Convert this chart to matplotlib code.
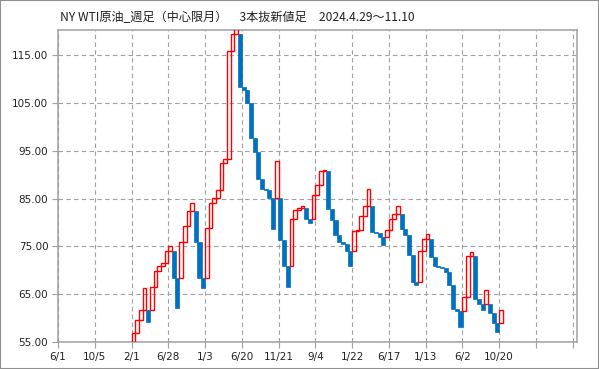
"""
NY WTI crude, weekly three-line-break chart (3本抜新値足)
"""

import matplotlib
matplotlib.use("Agg")
import matplotlib.pyplot as plt
from matplotlib.patches import Rectangle

# ---- data -----------------------------------------------------------------
first_slot = 20  # index of the first brick on the x axis

brick_open = [
    53.5, 56.8, 59.5, 61.6, 61.6, 61.6, 66.5, 69.8, 71.0, 71.6,   # 20-29
    74.1, 74.1, 68.3, 68.3, 75.9, 79.3, 82.5, 82.5, 75.9, 68.3,   # 30-39
    68.3, 78.9, 84.1, 85.2, 86.9, 92.4, 93.4, 116.0, 119.4, 119.4,  # 40-49
    108.4, 107.8, 105.0, 97.7, 94.7, 89.1, 87.1, 86.9, 85.1, 85.1,  # 50-59
    85.1, 76.3, 70.9, 70.9, 80.8, 82.7, 83.0, 83.0, 80.7, 80.7,   # 60-69
    85.7, 87.8, 90.8, 90.8, 82.9, 80.5, 77.3, 75.9, 75.6, 74.0,   # 70-79
    74.0, 78.2, 78.5, 81.3, 83.4, 83.4, 78.0, 77.8, 77.0, 77.0,   # 80-89
    78.5, 80.8, 81.7, 81.7, 78.7, 77.3, 73.3, 67.6, 67.6, 74.0,   # 90-99
    76.6, 76.6, 72.7, 70.9, 70.7, 70.4, 69.6, 67.0, 62.0, 61.5,   # 100-109
    61.5, 64.4, 73.1, 73.1, 63.9, 62.9, 62.9, 62.9, 61.0, 58.9,   # 110-119
    58.9,                                                          # 120
]
brick_close = [
    56.8, 59.5, 61.6, 66.2, 59.2, 66.5, 69.8, 71.0, 71.6, 74.1,
    75.1, 68.3, 62.1, 75.9, 79.3, 82.5, 84.0, 75.9, 68.3, 66.2,
    78.9, 84.1, 85.2, 86.9, 92.4, 93.4, 116.0, 119.4, 121.0, 108.4,
    107.8, 105.0, 97.7, 94.7, 89.1, 87.1, 86.9, 85.1, 78.6, 92.8,
    76.3, 70.9, 66.6, 80.8, 82.7, 83.0, 83.4, 80.7, 79.9, 85.7,
    87.8, 90.8, 91.1, 82.9, 80.5, 77.3, 75.9, 75.6, 74.0, 71.0,
    78.2, 78.5, 81.3, 83.4, 87.1, 78.0, 77.8, 77.0, 75.4, 78.5,
    80.8, 81.7, 83.4, 78.7, 77.3, 73.3, 67.6, 67.0, 74.0, 76.6,
    77.5, 72.7, 70.9, 70.7, 70.4, 69.6, 67.0, 62.0, 61.5, 58.1,
    64.4, 73.1, 73.8, 63.9, 62.9, 61.6, 65.8, 61.0, 58.9, 57.1,
    61.6,
]

# one date label every 10 bricks
date_labels = ["6/1", "10/5", "2/1", "6/28", "1/3", "6/20", "11/21",
               "9/4", "1/22", "6/17", "1/13", "6/2", "10/20", "", ""]
y_ticks = [55, 65, 75, 85, 95, 105, 115]

title = "NY WTI原油_週足（中心限月）\u30003本抜新値足\u30002024.4.29～11.10"

# ---- figure -----------------------------------------------------------------
fig = plt.figure(figsize=(5.99, 3.69), dpi=100)
ax = fig.add_axes([58 / 599, 1 - 342 / 369, 519 / 599, 312 / 369])

up_color = "#ff0000"
down_color = "#0070c0"

for i, (o, c) in enumerate(zip(brick_open, brick_close)):
    x = first_slot + i
    lo, hi = min(o, c), max(o, c)
    if c > o:
        ax.add_patch(Rectangle((x, lo), 1.0, hi - lo, facecolor="none",
                               edgecolor=up_color, linewidth=1.0, zorder=3))
    else:
        ax.add_patch(Rectangle((x - 0.05, lo), 1.1, hi - lo, facecolor=down_color,
                               edgecolor=down_color, linewidth=0.5, zorder=2))

ax.set_xlim(0, 141.2)
ax.set_ylim(55, 120.3)

ax.set_xticks([10 * k for k in range(len(date_labels))])
ax.set_xticklabels(date_labels)
ax.set_yticks(y_ticks)
ax.set_yticklabels([f"{v:.2f}" for v in y_ticks])

ax.grid(True, color="#a0a0a0", linestyle=(0, (4, 3)), linewidth=0.8)
ax.set_axisbelow(True)

for sp in ax.spines.values():
    sp.set_color("#a0a0a0")
    sp.set_linewidth(1.1)

ax.tick_params(axis="both", colors="#a0a0a0", length=4, width=0.8,
               labelcolor="#222222", labelsize=7.5, pad=3)

fig.text(60 / 599, 1 - 18 / 369, title, fontsize=8.7, va="center", ha="left",
         family=["Noto Sans CJK JP", "DejaVu Sans"], color="#222222")

# outer frame of the picture
fig.add_artist(Rectangle((0, 0), 1, 1, transform=fig.transFigure, fill=False,
                         edgecolor="#909090", linewidth=1.5))

fig.savefig("out.png", dpi=100)
